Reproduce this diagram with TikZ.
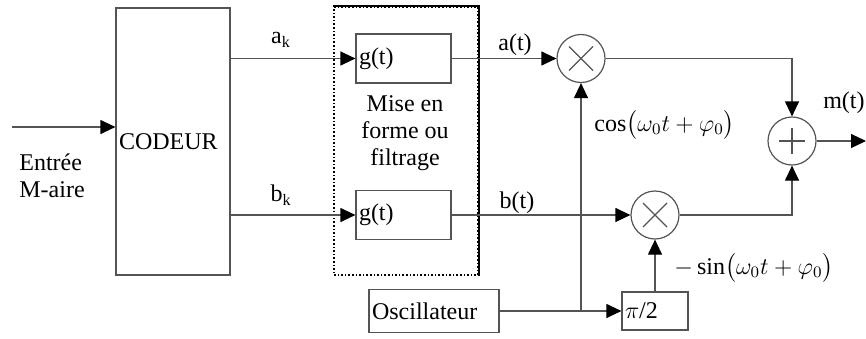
\documentclass[tikz,border=0pt]{standalone}
\usepackage{amsmath}
\usepackage{fontspec}
\setmainfont{Liberation Serif}
\usepackage{tikz}
\usetikzlibrary{arrows.meta}
\definecolor{lineColor}{rgb}{0.33,0.33,0.33}

\begin{document}
\begin{tikzpicture}[x=0.5pt,y=-0.5pt,font=\fontsize{12}{13.5}\selectfont]

          \tikzstyle{blockNode} = [draw=lineColor, semithick, inner xsep=1.5pt, inner ysep=0pt, align=left];
          \tikzstyle{opNode} = [draw=lineColor, semithick, circle, minimum size=24pt, inner sep=0pt];
          \tikzstyle{mulNode} = [opNode, path picture={\draw[lineColor, semithick] (path picture bounding box.center) +(-6pt,-6pt) -- +(6pt,6pt) +(-6pt,6pt) -- +(6pt,-6pt);}];
          \tikzstyle{sumNode} = [opNode, path picture={\draw[lineColor, semithick] (path picture bounding box.center) +(-6.5pt,0pt) -- +(6.5pt,0pt) +(0pt,-6.5pt) -- +(0pt,6.5pt);}];
          \tikzstyle{labelNode} = [black, inner sep=0pt];

          \tikzstyle{normalEdge} = [lineColor, semithick];
          \tikzstyle{arrowEdge} = [normalEdge, -{Triangle[length=7.5pt, width=7pt, color=black]}];

          \useasboundingbox (0,0) rectangle (866,338);

          \node[draw=black, densely dotted, thick, minimum width=72pt, minimum height=134pt] (frame) at (406,141) {};
          \draw[black, thick] (frame.north west) -- (frame.north east) -- (frame.south east);
          \node[blockNode, minimum height=133.5pt, text width=54pt] (codeur) at (173,141.5) {CODEUR};
          \node[blockNode, minimum height=24.5pt, text width=44.5pt] (gA) at (403.5,58.5) {g(t)};
          \node[blockNode, minimum height=24.5pt, text width=44.5pt] (gB) at (403.5,215) {g(t)};
          \node[blockNode, minimum height=21.5pt, text width=62pt] (osc) at (434,311) {Oscillateur};
          \node[blockNode, minimum height=19pt, text width=30pt] (phase) at (655,311) {$\pi$/2};
          \node[mulNode] (mulA) at (581,58.5) {};
          \node[mulNode] (mulB) at (655,215) {};
          \node[sumNode] (sum) at (792,141) {};

          \coordinate (in) at (12,127);
          \coordinate (split) at (581,311);
          \coordinate (out) at (866,141);

          \node[labelNode, align=left, anchor=west] (inLabel) at (19,176) {Entrée\\M-aire};
          \node[labelNode] (akLabel) at (281,40) {a\textsubscript{k}};
          \node[labelNode] (bkLabel) at (281,195) {b\textsubscript{k}};
          \node[labelNode, align=center] (shapeLabel) at (405,133) {Mise en\\forme ou\\filtrage};
          \node[labelNode] (atLabel) at (515,45) {a(t)};
          \node[labelNode] (btLabel) at (517,203) {b(t)};
          \node[labelNode, anchor=west] (cosLabel) at (594,125) {$\cos\bigl(\omega_0 t+\varphi_0\bigr)$};
          \node[labelNode, anchor=west] (sinLabel) at (674,268) {$-\sin\bigl(\omega_0 t+\varphi_0\bigr)$};
          \node[labelNode, anchor=east] (mtLabel) at (865,103) {m(t)};

          \draw[arrowEdge] (in) -- (in -| codeur.west);
          \draw[arrowEdge] (codeur.east |- gA.west) -- (gA.west);
          \draw[arrowEdge] (codeur.east |- gB.west) -- (gB.west);
          \draw[arrowEdge] (gA.east) -- (mulA.west);
          \draw[arrowEdge] (gB.east) -- (mulB.west);
          \draw[normalEdge] (osc.east) -- (split);
          \draw[arrowEdge] (split) -- (mulA.south);
          \draw[arrowEdge] (split) -- (phase.west);
          \draw[arrowEdge] (phase.north) -- (mulB.south);
          \draw[arrowEdge] (mulA.east) -| (sum.north);
          \draw[arrowEdge] (mulB.east) -| (sum.south);
          \draw[arrowEdge] (sum.east) -- (out);
        \end{tikzpicture}
\end{document}
